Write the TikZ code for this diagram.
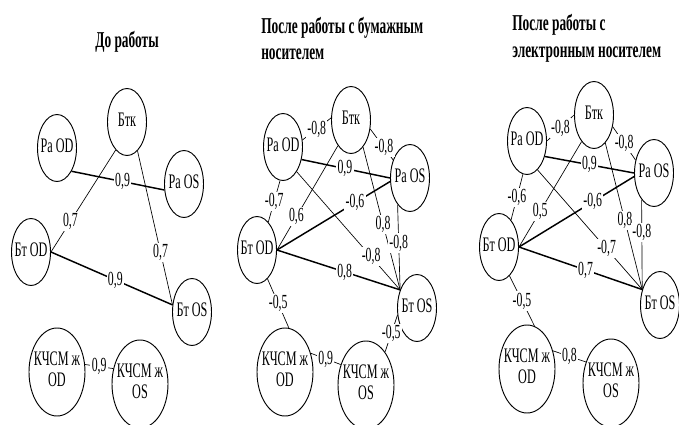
\documentclass[tikz,border=0pt]{standalone}
\usepackage{fontspec}
\setmainfont{Liberation Serif}[FakeStretch=0.59]
\usetikzlibrary{shapes.geometric}

% text of a node, centred, without widening its ellipse
\newcommand\ntext[1]{\makebox[0pt]{\begin{tabular}{@{}c@{}}#1\end{tabular}}}

\tikzset{
  mnode/.style={ellipse, draw, line width=0.7pt, inner sep=0pt,
    minimum width=29.25pt, minimum height=50.25pt,
    font=\fontsize{15.5}{15.5}\selectfont},
  bignode/.style={mnode, minimum width=42pt, minimum height=66pt},
  thinl/.style={line width=0.5pt},
  thickl/.style={line width=1.1pt},
  lbl/.style={fill=white, inner sep=1pt, font=\fontsize{15}{15}\selectfont},
  ttl/.style={font=\bfseries\fontsize{17}{20}\selectfont, align=left, inner sep=0pt}
}

\begin{document}
\begin{tikzpicture}[x=0.75pt, y=-0.75pt]
\useasboundingbox (0,0) rectangle (679,425);

% ---------- before work ----------
\node[ttl] (ttlA) at (127,42) {До работы};
\node[mnode] (btkA)  at (127,122) {\ntext{Бтк}};
\node[mnode] (paodA) at (57,148)  {\ntext{Ра OD}};
\node[mnode] (paosA) at (184,184) {\ntext{Ра OS}};
\node[mnode] (btodA) at (31,252)  {\ntext{Бт OD}};
\node[mnode] (btosA) at (192,312) {\ntext{Бт OS}};
\node[bignode] (kodA) at (57,372)  {\ntext{КЧСМ ж\\OD}};
\node[bignode] (kosA) at (140,384) {\ntext{КЧСМ ж\\OS}};

\draw[thinl] (btkA.248) -- node[lbl,pos=.7]{0,7} (btodA.0);
\draw[thinl] (btkA.-70) -- node[lbl,pos=.66]{0,7} (btosA.160);
\draw[thinl] (kodA.15) -- node[lbl,pos=.5]{0,9} (kosA.150);
\draw[thickl] (paodA.-58) -- node[lbl,pos=.55]{0,9} (paosA.197);
\draw[thickl] (btodA.0) -- node[lbl,pos=.53]{0,9} (btosA.160);

% ---------- after work with paper ----------
\node[ttl, anchor=west] (ttlB) at (261,38.5) {После работы с бумажным\\носителем};
\node[mnode] (btkB)  at (351,120) {\ntext{Бтк}};
\node[mnode] (paodB) at (283,147) {\ntext{Ра OD}};
\node[mnode] (paosB) at (410,178) {\ntext{Ра OS}};
\node[mnode] (btodB) at (257,250) {\ntext{Бт OD}};
\node[mnode] (btosB) at (417,308) {\ntext{Бт OS}};
\node[bignode] (kodB) at (285,372) {\ntext{КЧСМ ж\\OD}};
\node[bignode] (kosB) at (366,385) {\ntext{КЧСМ ж\\OS}};

\draw[thinl] (paodB.20) -- node[lbl,pos=.5]{-0,8} (btkB.174);
\draw[thinl] (btkB.-25) -- node[lbl,pos=.6]{-0,8} (paosB.133);
\draw[thinl] (paodB.265) -- node[lbl,pos=.5]{-0,7} (btodB.68);
\draw[thinl] (btkB.243) -- node[lbl,pos=.68]{0,6} (btodB.0);
\draw[thinl] (paodB.-61) -- node[lbl,pos=.72]{-0,8} (btosB.133);
\draw[thinl] (btkB.-66) -- node[lbl,pos=.54]{0,8} (btosB.133);
\draw[thinl] (paosB.245) -- node[lbl,pos=.45]{-0,8} (btosB.133);
\draw[thinl] (btodB.-70) -- node[lbl,pos=.5]{-0,5} (kodB.85);
\draw[thinl] (kodB.36) -- node[lbl,pos=.5]{0,9} (kosB.141);
\draw[thinl] (btosB.200) -- node[lbl,pos=.5]{-0,5} (kosB.60);
\draw[thickl] (paodB.-34) -- node[lbl,pos=.49]{0,9} (paosB.180);
\draw[thickl] (btodB.0) -- node[lbl,pos=.69]{-0,6} (paosB.190);
\draw[thickl] (btodB.0) -- node[lbl,pos=.55]{0,8} (btosB.133);

% ---------- after work with electronic media ----------
\node[ttl, anchor=west] (ttlC) at (512,38.5) {После работы с\\электронным носителем};
\node[mnode] (btkC)  at (594,115) {\ntext{Бтк}};
\node[mnode] (paodC) at (527,141) {\ntext{Ра OD}};
\node[mnode] (paosC) at (654,173) {\ntext{Ра OS}};
\node[mnode] (btodC) at (499,247) {\ntext{Бт OD}};
\node[mnode] (btosC) at (660,305) {\ntext{Бт OS}};
\node[bignode] (kodC) at (527,369) {\ntext{КЧСМ ж\\OD}};
\node[bignode] (kosC) at (611,383) {\ntext{КЧСМ ж\\OS}};

\draw[thinl] (paodC.0) -- node[lbl,pos=.5]{-0,8} (btkC.180);
\draw[thinl] (btkC.-32) -- node[lbl,pos=.5]{-0,8} (paosC.145);
\draw[thinl] (paodC.263) -- node[lbl,pos=.5]{-0,6} (btodC.66);
\draw[thinl] (btkC.245) -- node[lbl,pos=.66]{0,5} (btodC.0);
\draw[thinl] (paodC.-70) -- node[lbl,pos=.66]{-0,7} (btosC.139);
\draw[thinl] (btkC.-68) -- node[lbl,pos=.53]{0,8} (btosC.139);
\draw[thinl] (paosC.245) -- node[lbl,pos=.37]{-0,8} (btosC.139);
\draw[thinl] (btodC.-70) -- node[lbl,pos=.5]{-0,5} (kodC.80);
\draw[thinl] (kodC.35) -- node[lbl,pos=.5]{0,8} (kosC.140);
\draw[thickl] (paodC.-41) -- node[lbl,pos=.5]{0,9} (paosC.180);
\draw[thickl] (btodC.0) -- node[lbl,pos=.64]{-0,6} (paosC.190);
\draw[thickl] (btodC.0) -- node[lbl,pos=.54]{0,7} (btosC.139);
\end{tikzpicture}
\end{document}
